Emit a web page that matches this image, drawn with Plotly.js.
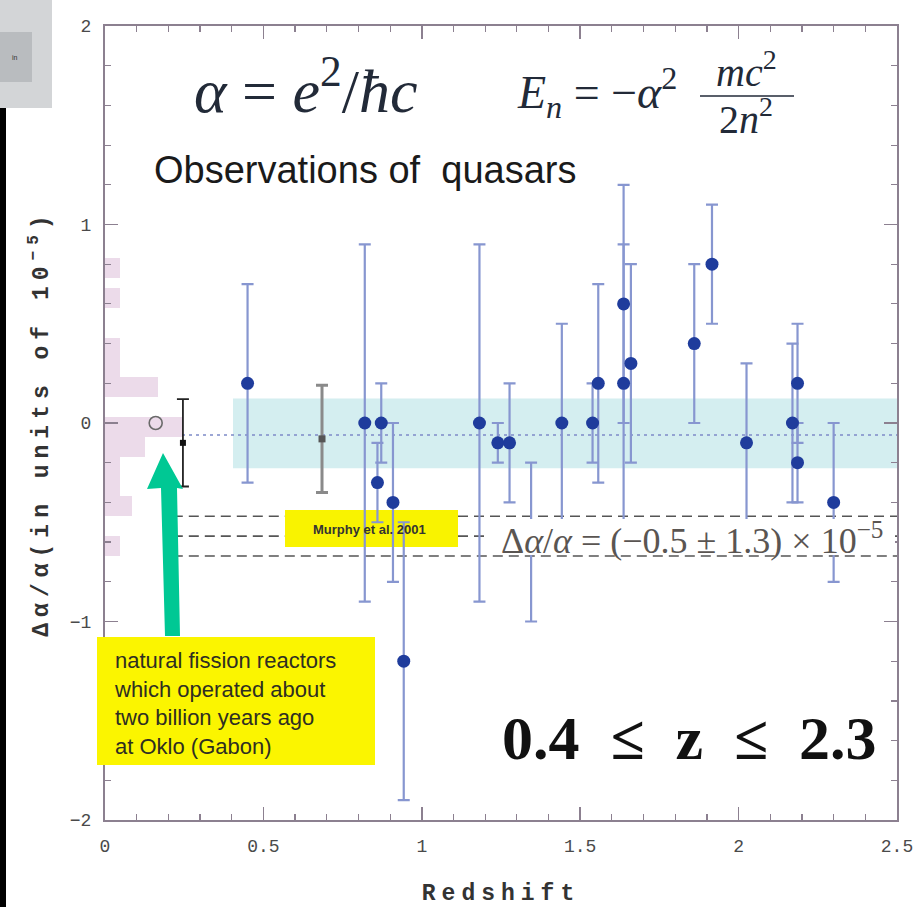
<!DOCTYPE html>
<html>
<head>
<meta charset="utf-8">
<script src="https://cdn.plot.ly/plotly-3.0.1.min.js"></script>
<style>
  html, body { margin: 0; padding: 0; background: #fff; }
  #chart { width: 917px; height: 907px; }
  .xtitle, .ytitle { letter-spacing: 6px; }
</style>
</head>
<body>
<div id="chart"></div>
<script>
// ---------------- data ----------------
const quasarZ   = [0.45, 0.82, 0.86, 0.872, 0.909, 0.943, 1.182, 1.24, 1.277, 1.345, 1.442, 1.539, 1.557, 1.637, 1.637, 1.66, 1.86, 1.916, 2.025, 2.17, 2.186, 2.186, 2.30];
const quasarDA  = [0.2, 0.0, -0.3, 0.0, -0.4, -1.2, 0.0, -0.1, -0.1, -0.6, 0.0, 0.0, 0.2, 0.6, 0.2, 0.3, 0.4, 0.8, -0.1, 0.0, 0.2, -0.2, -0.4];
const quasarErr = [0.5, 0.9, 0.2, 0.2, 0.4, 0.7, 0.9, 0.1, 0.3, 0.4, 0.5, 0.2, 0.5, 0.6, 0.7, 0.5, 0.4, 0.3, 0.4, 0.4, 0.3, 0.2, 0.4];

const grayZ = [0.685], grayDA = [-0.08], grayErrPlus = [0.27], grayErrMinus = [0.27];
const blackZ = [0.246], blackDA = [-0.1], blackErr = [0.22];
const okloZ = [0.16], okloDA = [0.0];

const histCenter = [0.78, 0.63, 0.38, 0.28, 0.18, -0.02, -0.12, -0.22, -0.32, -0.42, -0.62];
const histLength = [0.047, 0.047, 0.047, 0.047, 0.167, 0.243, 0.126, 0.047, 0.047, 0.085, 0.047];
const histBin = 0.1;

const bandZ = [0.404, 2.5], bandDA = [-0.228, 0.124];
const meanDA = -0.06;
const murphyDA = [-0.47, -0.57, -0.67];
const murphyStartZ = 0.214;

const xTicks = [0, 0.5, 1, 1.5, 2, 2.5];
const yTicks = [-2, -1, 0, 1, 2];

// ---------------- layout helpers ----------------
const W = 917, H = 907;
const X0 = 105, X1 = 897, Y0 = 26, Y1 = 820;
const XR = [0, 2.5], YR = [-2, 2];
const px = x => (x - X0) / (X1 - X0);
const py = y => (Y1 - y) / (Y1 - Y0);
const dz = x => XR[0] + px(x) * (XR[1] - XR[0]);
const dv = y => YR[0] + py(y) * (YR[1] - YR[0]);
const axisCol = '#8c8090';

function rectPx(x0, y0, x1, y1, fill, layer) {
  return {type: 'rect', xref: 'paper', yref: 'paper', x0: px(x0), x1: px(x1), y0: py(y1), y1: py(y0),
          fillcolor: fill, line: {width: 0}, layer: layer || 'above'};
}
function rectData(x0, y0, x1, y1, fill, layer) {
  return {type: 'rect', xref: 'x', yref: 'y', x0: dz(x0), x1: dz(x1), y0: dv(y1), y1: dv(y0),
          fillcolor: fill, line: {width: 0}, layer: layer || 'below'};
}
function pathPx(pts) {
  return 'M' + pts.map(p => px(p[0]).toFixed(5) + ',' + py(p[1]).toFixed(5)).join(' L') + ' Z';
}

// ---------------- traces ----------------
const traces = [
  {
    type: 'bar', orientation: 'h', y: histCenter, x: histLength, width: histBin, base: 0,
    marker: {color: '#ecdbea', line: {width: 0}}, hoverinfo: 'skip', showlegend: false
  },
  {
    type: 'scatter', mode: 'markers', x: quasarZ, y: quasarDA,
    error_y: {type: 'data', array: quasarErr, visible: true, color: '#8796d0', thickness: 2.2, width: 6},
    marker: {color: '#1f3c9c', size: 13}, showlegend: false
  },
  {
    type: 'scatter', mode: 'markers', x: grayZ, y: grayDA,
    error_y: {type: 'data', array: grayErrPlus, arrayminus: grayErrMinus, visible: true, color: '#8a8a8a', thickness: 3, width: 6},
    marker: {color: '#555555', size: 7, symbol: 'square'}, showlegend: false
  },
  {
    type: 'scatter', mode: 'markers', x: blackZ, y: blackDA,
    error_y: {type: 'data', array: blackErr, visible: true, color: '#222222', thickness: 1.8, width: 6},
    marker: {color: '#111111', size: 6, symbol: 'square'}, showlegend: false
  },
  {
    type: 'scatter', mode: 'markers', x: okloZ, y: okloDA,
    marker: {color: 'rgba(0,0,0,0)', size: 13, line: {color: '#6a6a6a', width: 1.6}}, showlegend: false
  }
];

// ---------------- shapes ----------------
const murphyBox = [285, 510, 458, 547];   // pixel box of the "Murphy et al. 2001" label
const shapes = [
  {type: 'rect', xref: 'x', yref: 'y', x0: bandZ[0], x1: bandZ[1], y0: bandDA[0], y1: bandDA[1],
   fillcolor: '#d4eef0', line: {width: 0}, layer: 'below'},
  {type: 'line', xref: 'x', yref: 'y', x0: XR[0], x1: XR[1], y0: meanDA, y1: meanDA,
   line: {color: '#7d8ac8', width: 1.5, dash: '3px,4px'}, layer: 'below'},
  rectData(murphyBox[0], murphyBox[1], murphyBox[2], murphyBox[3], '#f9f300', 'below')
];
function dashed(x0, x1, v) {
  shapes.push({type: 'line', xref: 'x', yref: 'y', x0: x0, x1: x1, y0: v, y1: v,
    line: {color: '#555555', width: 1.6, dash: '10px,6px'}, layer: 'below'});
}
murphyDA.forEach(v => {
  if (v <= dv(murphyBox[1]) && v >= dv(murphyBox[3])) {
    dashed(murphyStartZ, dz(murphyBox[0]), v);
    dashed(dz(murphyBox[2]), XR[1], v);
  } else {
    dashed(murphyStartZ, XR[1], v);
  }
});
shapes.push(rectPx(487, 519, 895, 555, '#ffffff', 'above'));
shapes.push(rectPx(97, 637, 375, 765, '#fbf500', 'above'));
// green arrow
shapes.push({type: 'path', xref: 'paper', yref: 'paper', layer: 'above',
  path: pathPx([[163, 453], [183, 489], [177, 488], [180, 636], [165, 636], [161, 488], [147, 489]]),
  fillcolor: '#00c894', line: {width: 0}});
// fraction bar of E_n formula
shapes.push({type: 'line', xref: 'paper', yref: 'paper', x0: px(700), x1: px(794), y0: py(96), y1: py(96),
  line: {color: '#222a38', width: 1.6}, layer: 'above'});
// screenshot artefacts at the top-left
shapes.push(rectPx(0, 0, 52, 108, '#d3d5d7', 'above'));
shapes.push(rectPx(0, 32, 32, 82, '#b9bcbf', 'above'));
shapes.push(rectPx(0, 108, 6, 907, '#000000', 'above'));

// ---------------- annotations ----------------
const serif = 'Liberation Serif, Times New Roman, serif';
const sans = 'Liberation Sans, Arial, sans-serif';
function ann(text, x, y, size, opts) {
  return Object.assign({text: text, xref: 'paper', yref: 'paper', x: px(x), y: py(y), showarrow: false,
    xanchor: 'center', yanchor: 'middle', font: {family: serif, size: size, color: '#222a38'}}, opts || {});
}
const annotations = [
  ann('<i>α</i>&nbsp;=&nbsp;<i>e</i><sup>2</sup>/<i>ħc</i>', 306, 86, 62),
  ann('<i>E</i><sub><i>n</i></sub> = −<i>α</i><sup>2</sup>', 597, 92, 46),
  ann('<i>mc</i><sup>2</sup>', 746, 70, 40),
  ann('2<i>n</i><sup>2</sup>', 746, 116, 40),
  ann('Observations of  quasars', 365, 170, 38, {font: {family: sans, size: 38, color: '#1a1a1a'}}),
  ann('<b>Murphy et al. 2001</b>', 369, 529, 13, {font: {family: sans, size: 13, color: '#333'}}),
  ann('Δ<i>α</i>/<i>α</i>&nbsp;=&nbsp;(−0.5&nbsp;±&nbsp;1.3)&nbsp;×&nbsp;10<sup>−5</sup>', 692, 538, 36,
      {font: {family: serif, size: 36, color: '#5a5552'}}),
  ann('natural fission reactors<br>which operated about<br>two billion years ago<br>at Oklo (Gabon)', 112, 703, 22,
      {xanchor: 'left', align: 'left', font: {family: sans, size: 22, color: '#2e2e22'}}),
  ann('<b>0.4&nbsp;&nbsp;≤&nbsp;&nbsp;z&nbsp;&nbsp;≤&nbsp;&nbsp;2.3</b>', 689, 738, 62, {font: {family: serif, size: 62, color: '#111'}}),
  ann('in', 15, 57, 7, {font: {family: sans, size: 7, color: '#333'}})
];

// ---------------- layout ----------------
const tickFont = {family: 'Liberation Mono, Courier New, monospace', size: 18, color: '#4a4a4a'};
const titleFont = {family: 'Liberation Mono, Courier New, monospace', size: 23, color: '#333', weight: 'bold'};
const layout = {
  width: W, height: H,
  margin: {l: X0, r: W - X1, t: Y0, b: H - Y1, pad: 0},
  paper_bgcolor: '#fff', plot_bgcolor: '#fff',
  showlegend: false, bargap: 0,
  xaxis: {
    range: XR, tickvals: xTicks, ticks: 'inside', ticklen: 13, tickwidth: 1.5, tickcolor: axisCol,
    showline: true, linecolor: axisCol, linewidth: 2, mirror: 'ticks', showgrid: false, zeroline: false,
    minor: {dtick: 0.1, tick0: 0, ticks: 'inside', ticklen: 6, tickwidth: 1.2, tickcolor: axisCol, showgrid: false},
    tickfont: tickFont, ticklabelstandoff: 8,
    title: {text: 'Redshift', font: titleFont}
  },
  yaxis: {
    range: YR, tickvals: yTicks, ticks: 'inside', ticklen: 13, tickwidth: 1.5, tickcolor: axisCol,
    showline: true, linecolor: axisCol, linewidth: 2, mirror: 'ticks', showgrid: false, zeroline: false,
    minor: {dtick: 0.2, tick0: 0, ticks: 'inside', ticklen: 6, tickwidth: 1.2, tickcolor: axisCol, showgrid: false},
    tickfont: tickFont, ticklabelstandoff: 8,
    title: {text: 'Δα/α(in units of 10<sup>−5</sup>)', font: titleFont}
  },
  shapes: shapes,
  annotations: annotations
};

Plotly.newPlot('chart', traces, layout, {staticPlot: true, displayModeBar: false});
</script>
</body>
</html>
